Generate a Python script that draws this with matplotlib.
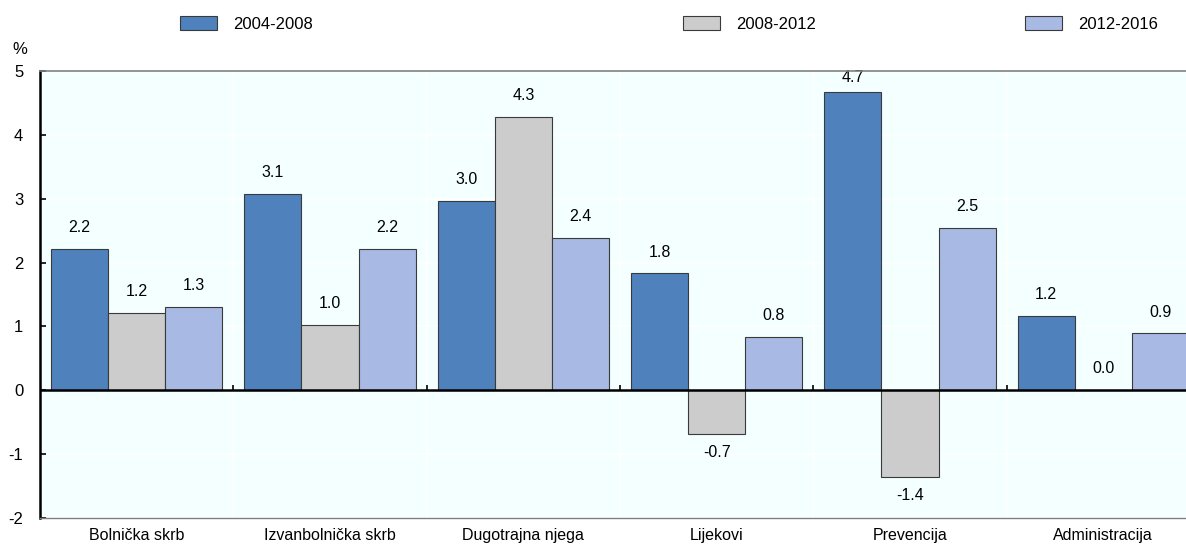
import numpy as np
import matplotlib
matplotlib.use("Agg")
import matplotlib.pyplot as plt
from matplotlib.patches import Patch

plt.rcParams['font.family'] = ['Liberation Sans', 'DejaVu Sans']
plt.rcParams['axes.unicode_minus'] = False

kategorije = ["Bolnička skrb", "Izvanbolnička skrb", "Dugotrajna njega",
              "Lijekovi", "Prevencija", "Administracija"]
razdoblja = ["2004-2008", "2008-2012", "2012-2016"]
v_2004_2008 = [2.22, 3.07, 2.96, 1.83, 4.67, 1.17]
v_2008_2012 = [1.21, 1.02, 4.28, -0.68, -1.36, 0.0]
v_2012_2016 = [1.30, 2.22, 2.39, 0.84, 2.54, 0.89]
boje = ["#4F81BD", "#CCCCCC", "#A8B9E3"]

fig = plt.figure(figsize=(11.86, 5.45), dpi=100)
# axes run slightly past the right edge like in the original
ax = fig.add_axes([40 / 1186, 1 - 518 / 545, 1160 / 1186, 447 / 545])
ax.set_facecolor("#F4FFFF")

ymin, ymax = -2, 5
x = np.arange(len(kategorije))
w = 0.295
serije = [v_2004_2008, v_2008_2012, v_2012_2016]
for i, vals in enumerate(serije):
    pos = x + (i - 1) * w
    bars = ax.bar(pos, vals, width=w, color=boje[i], edgecolor="#3a3a3a",
                  linewidth=0.8, zorder=3)
    for b, v in zip(bars, vals):
        cx = b.get_x() + b.get_width() / 2
        if v >= 0:
            if v > ymax - 0.5:
                # no room above the bar: label tucked under the top line
                ax.annotate(f"{v:.1f}", (cx, ymax), xytext=(0, -5),
                            textcoords="offset points", ha="center",
                            va="center", fontsize=11.5, zorder=2)
            else:
                ax.annotate(f"{v:.1f}", (cx, v), xytext=(0, 10),
                            textcoords="offset points", ha="center",
                            va="bottom", fontsize=11.5)
        else:
            ax.annotate(f"{v:.1f}", (cx, v), xytext=(0, -8),
                        textcoords="offset points", ha="center", va="top",
                        fontsize=11.5)

ax.set_xlim(-0.5, len(kategorije) - 0.5)
ax.set_ylim(ymin, ymax)
ax.set_yticks(range(ymin, ymax + 1))
ax.set_xticks(x)
ax.set_xticklabels(kategorije, fontsize=11.5)
ax.tick_params(axis="x", length=0, pad=7)
ax.tick_params(axis="y", direction="in", length=4, width=1.2, labelsize=12, pad=12)

# grid: white lines
for yy in range(ymin, ymax + 1):
    ax.axhline(yy, color="white", linewidth=1.2, zorder=1)
granice = np.arange(len(kategorije) + 1) - 0.5
for gx in granice[1:-1]:
    ax.axvline(gx, color="white", linewidth=1.2, zorder=1)

ax.axhline(0, color="black", linewidth=1.8, zorder=4)
ax.vlines(granice[1:-1], 0, 0.09, color="black", linewidth=1.2, zorder=4)

ax.spines["right"].set_visible(False)
ax.spines["left"].set_color("black")
ax.spines["left"].set_linewidth(1.8)
ax.spines["top"].set_color("#808080")
ax.spines["top"].set_linewidth(1.2)
ax.spines["top"].set_zorder(5)
ax.spines["bottom"].set_color("#808080")
ax.spines["bottom"].set_linewidth(1.0)

fig.text(20 / 1186, 1 - 50 / 545, "%", fontsize=12, ha="center", va="center")

# legend entries spread across the top
leg_x = [180 / 1186, 683 / 1186, 1025 / 1186]
for i, naziv in enumerate(razdoblja):
    h = Patch(facecolor=boje[i], edgecolor="#3a3a3a", linewidth=0.8)
    fig.legend([h], [naziv], loc="center left",
               bbox_to_anchor=(leg_x[i], 1 - 24 / 545), frameon=False,
               fontsize=12, borderpad=0, borderaxespad=0,
               handlelength=2.2, handleheight=0.9, handletextpad=1.0)

fig.savefig("out.png", dpi=100)
